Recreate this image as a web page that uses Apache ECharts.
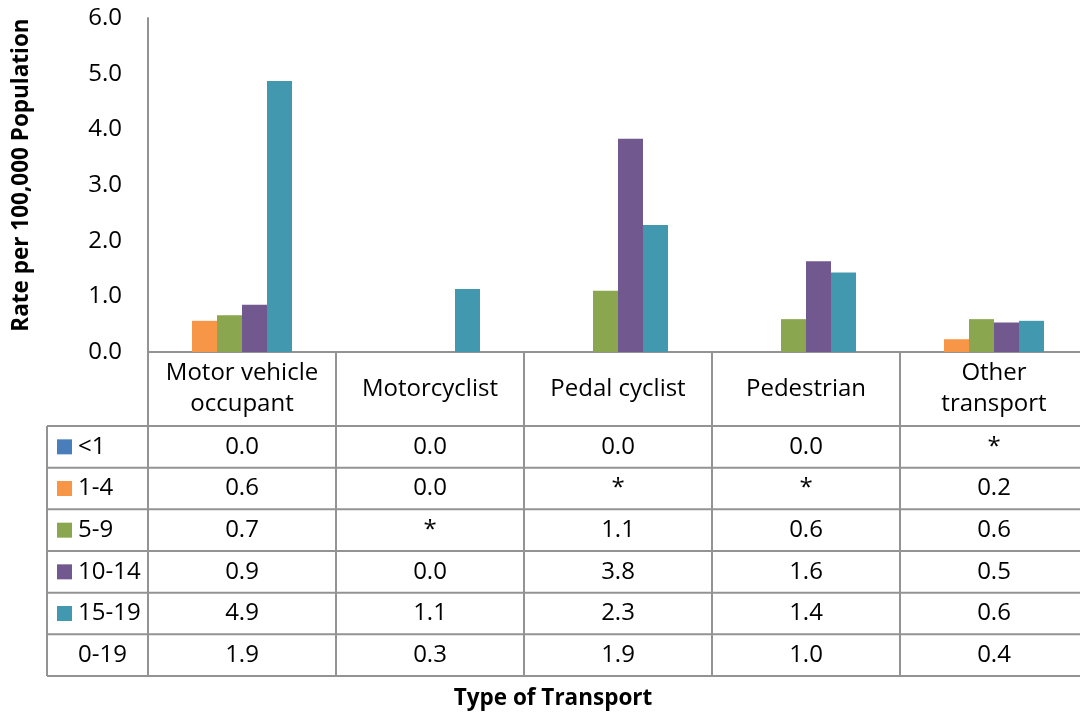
<!DOCTYPE html>
<html>
<head>
<meta charset="utf-8">
<script src="https://cdn.jsdelivr.net/npm/echarts@6/dist/echarts.min.js"></script>
<style>
html,body{margin:0;padding:0;background:#fff;}
#chart{width:1080px;height:713px;}
</style>
</head>
<body>
<div id="chart"></div>
<script>
// ---- data ----
const categories = ['Motor vehicle\noccupant', 'Motorcyclist', 'Pedal cyclist', 'Pedestrian', 'Other\ntransport'];
const seriesNames = ['<1', '1-4', '5-9', '10-14', '15-19', '0-19'];
// bar heights (null = suppressed "*")
const valsLt1   = [0, 0, 0, 0, null];
const vals1_4   = [0.56, 0, null, null, 0.23];
const vals5_9   = [0.66, null, 1.10, 0.59, 0.59];
const vals10_14 = [0.85, 0, 3.83, 1.63, 0.53];
const vals15_19 = [4.87, 1.13, 2.28, 1.43, 0.56];
const vals0_19  = [1.9, 0.3, 1.9, 1.0, 0.4];
// data table text
const tblLt1   = ['0.0', '0.0', '0.0', '0.0', '*'];
const tbl1_4   = ['0.6', '0.0', '*', '*', '0.2'];
const tbl5_9   = ['0.7', '*', '1.1', '0.6', '0.6'];
const tbl10_14 = ['0.9', '0.0', '3.8', '1.6', '0.5'];
const tbl15_19 = ['4.9', '1.1', '2.3', '1.4', '0.6'];
const tbl0_19  = ['1.9', '0.3', '1.9', '1.0', '0.4'];
const yTicks = { min: 0, max: 6, interval: 1 };
const yTitle = 'Rate per 100,000 Population';
const xTitle = 'Type of Transport';

// ---- styles ----
const colors = ['#4a7ebb', '#f79646', '#8aa64e', '#71588f', '#4298af', 'rgba(0,0,0,0)'];
const FONT = 'Open Sans';
const FS = 24;
const GRAY = '#939393';
const allVals = [valsLt1, vals1_4, vals5_9, vals10_14, vals15_19, vals0_19];
const allTbl = [tblLt1, tbl1_4, tbl5_9, tbl10_14, tbl15_19, tbl0_19];

const chart = echarts.init(document.getElementById('chart'), null, { renderer: 'canvas' });

const gridTop = 18, gridBottomY = 352, gridLeft = 148;

chart.setOption({
  animation: false,
  backgroundColor: '#fff',
  textStyle: { fontFamily: FONT },
  grid: { left: gridLeft, top: gridTop, width: 940, height: gridBottomY - gridTop, containLabel: false, outerBoundsMode: 'none' },
  xAxis: {
    type: 'category',
    data: categories,
    axisLine: { show: true, lineStyle: { color: GRAY, width: 2 } },
    axisTick: { show: false },
    axisLabel: { fontFamily: FONT, fontSize: FS, color: '#000', lineHeight: 31, margin: 37, verticalAlign: 'middle', align: 'center', interval: 0 }
  },
  yAxis: {
    type: 'value',
    min: yTicks.min, max: yTicks.max, interval: yTicks.interval,
    axisLine: { show: true, lineStyle: { color: GRAY, width: 2 } },
    axisTick: { show: false },
    splitLine: { show: false },
    axisLabel: { fontFamily: FONT, fontSize: FS, color: '#000', margin: 26, formatter: v => v.toFixed(1) }
  },
  series: seriesNames.map((n, i) => ({
    name: n,
    type: 'bar',
    data: allVals[i],
    barWidth: 25,
    barGap: '0%',
    itemStyle: { color: colors[i] }
  }))
});

// ---- data table drawn from axis positions ----
const c0 = chart.convertToPixel({ xAxisIndex: 0 }, 0);
const c1 = chart.convertToPixel({ xAxisIndex: 0 }, 1);
const band = c1 - c0;
const centers = categories.map((_, i) => chart.convertToPixel({ xAxisIndex: 0 }, i));
const rightEdge = centers[centers.length - 1] + band / 2;
const tableLeft = 47;
const headerBottom = 426;
const rowH = 41.67;
const nRows = seriesNames.length;
const tableBottom = headerBottom + rowH * nRows;

const g = [];
const line = (x1, y1, x2, y2) => g.push({ type: 'line', shape: { x1, y1, x2, y2 }, style: { stroke: GRAY, lineWidth: 2 }, silent: true });
// vertical separators
for (let i = 0; i < categories.length; i++) {
  const x = centers[i] - band / 2;
  line(x, gridBottomY, x, tableBottom);
}
line(tableLeft, headerBottom, tableLeft, tableBottom);
// horizontal lines
for (let r = 0; r <= nRows; r++) {
  const y = headerBottom + r * rowH;
  line(tableLeft, y, rightEdge, y);
}
// rows
const font = FS + 'px "' + FONT + '"';
for (let r = 0; r < nRows; r++) {
  const yc = headerBottom + (r + 0.5) * rowH;
  if (r < 5) {
    g.push({ type: 'rect', shape: { x: 57, y: yc - 7.5, width: 15, height: 15 }, style: { fill: colors[r] }, silent: true });
  }
  g.push({ type: 'text', x: 78, y: yc, style: { text: seriesNames[r], font: font, fill: '#000', textAlign: 'left', textVerticalAlign: 'middle' }, silent: true });
  for (let c = 0; c < categories.length; c++) {
    g.push({ type: 'text', x: centers[c], y: yc, style: { text: allTbl[r][c], font: font, fill: '#000', textAlign: 'center', textVerticalAlign: 'middle' }, silent: true });
  }
}
// axis titles
g.push({ type: 'text', x: 553, y: 699, style: { text: xTitle, font: 'bold 22.5px "' + FONT + '"', fill: '#000', textAlign: 'center', textVerticalAlign: 'middle' }, silent: true });
g.push({ type: 'text', x: 22, y: 175, rotation: Math.PI / 2, style: { text: yTitle, font: 'bold 22.5px "' + FONT + '"', fill: '#000', textAlign: 'center', textVerticalAlign: 'middle' }, silent: true });

chart.setOption({ graphic: g });
</script>
</body>
</html>
